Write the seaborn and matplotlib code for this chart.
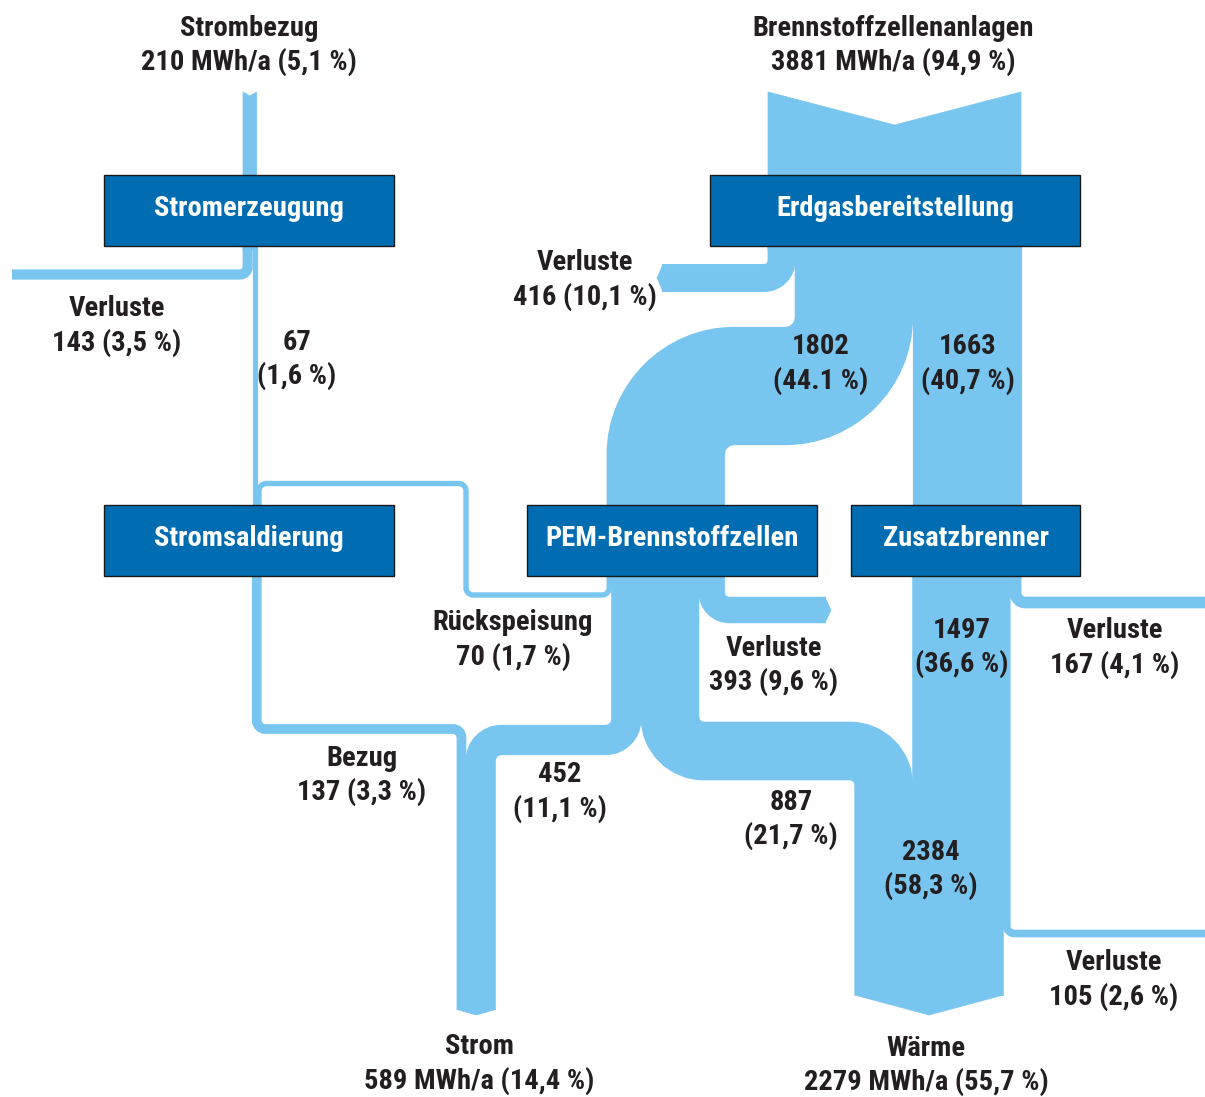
import numpy as np
import matplotlib
matplotlib.use('Agg')
import matplotlib.pyplot as plt
import seaborn as sns
from matplotlib import font_manager
from matplotlib.path import Path
from matplotlib.patches import PathPatch, Polygon, Rectangle

# Energy flows in MWh/a
strombezug = 210
brennstoff = 3881
verl_strom = 143
strom_saldo = 67
rueckspeisung = 70
bezug = 137
verl_erdgas = 416
pem_in = 1802
zusatz_in = 1663
pem_strom = 452
pem_waerme = 887
verl_pem = 393
zusatz_waerme = 1497
verl_zusatz = 167
verl_waerme = 105
waerme_sum = 2384
strom_out = 589
waerme_out = 2279

# percentages as printed in the source
pct = {
    'strombezug': '5,1', 'brennstoff': '94,9', 'verl_strom': '3,5', 'strom_saldo': '1,6',
    'rueck': '1,7', 'bezug': '3,3', 'verl_erdgas': '10,1', 'pem_in': '44.1',
    'zusatz_in': '40,7', 'pem_strom': '11,1', 'pem_waerme': '21,7', 'verl_pem': '9,6',
    'zusatz_waerme': '36,6', 'verl_zusatz': '4,1', 'verl_waerme': '2,6',
    'waerme_sum': '58,3', 'strom_out': '14,4', 'waerme_out': '55,7',
}

box_names = ['Stromerzeugung', 'Erdgasbereitstellung', 'Stromsaldierung',
             'PEM-Brennstoffzellen', 'Zusatzbrenner']

FLOW = '#78c5ef'
BOX = '#006db3'
TXT = '#231f20'
K = 253 / brennstoff          # px per MWh
KAPPA = 0.5523

sns.set_theme(style='white')

# prefer a narrow family if one is installed
installed = {f.name for f in font_manager.fontManager.ttflist}
FONT = 'DejaVu Sans'
for name in ['Liberation Sans Narrow', 'Roboto Condensed', 'Open Sans Condensed',
             'Noto Sans Condensed', 'Liberation Sans', 'Roboto']:
    if name in installed:
        FONT = name
        break
plt.rcParams['font.family'] = [FONT, 'DejaVu Sans']
narrow = 'Narrow' in FONT or 'Condensed' in FONT
LBL_SIZE = 20.5 if narrow else 18
BOX_SIZE = 20.5 if narrow else 18

fig = plt.figure(figsize=(12.05, 10.97), dpi=100)
ax = fig.add_axes([0, 0, 1, 1])
ax.set_xlim(0, 1205)
ax.set_ylim(1097, 0)
ax.axis('off')


def w(v):
    return v * K


def flow(points, value, r=None, extra=5):
    width = w(value)
    if r is None:
        r = width / 2 + extra
    pts = [np.array(p, float) for p in points]
    verts, codes = [pts[0]], [Path.MOVETO]
    for i in range(1, len(pts) - 1):
        p0, p1, p2 = pts[i - 1], pts[i], pts[i + 1]
        d1 = (p1 - p0) / np.linalg.norm(p1 - p0)
        d2 = (p2 - p1) / np.linalg.norm(p2 - p1)
        a, b = p1 - d1 * r, p1 + d2 * r
        verts += [a, a + d1 * r * KAPPA, b - d2 * r * KAPPA, b]
        codes += [Path.LINETO, Path.CURVE4, Path.CURVE4, Path.CURVE4]
    verts.append(pts[-1])
    codes.append(Path.LINETO)
    # +0.8 px so neighbouring bands meet without a hairline gap
    ax.add_patch(PathPatch(Path(verts, codes), fill=False, edgecolor=FLOW,
                           lw=(width + 0.8) * 0.72, capstyle='butt', zorder=1))


def poly(pts):
    ax.add_patch(Polygon(pts, closed=True, facecolor=FLOW, edgecolor=FLOW, lw=0.5, zorder=1))


def box(x0, y0, x1, y1, name):
    ax.add_patch(Rectangle((x0, y0), x1 - x0, y1 - y0, facecolor=BOX,
                           edgecolor='#1a1a1a', lw=1, zorder=3))
    ax.text((x0 + x1) / 2, (y0 + y1) / 2 - 2, name, color='white', fontsize=BOX_SIZE,
            fontweight='bold', ha='center', va='center', zorder=4)


def label(x, y, l1, l2):
    for dy, s in [(0, l1), (34, l2)]:
        ax.text(x, y + dy, s, color=TXT, fontsize=LBL_SIZE, fontweight='bold',
                ha='center', va='center')


# ---- left: electricity ----
x_sb = 243
poly([(x_sb, 92), (x_sb + w(strombezug) / 2, 96), (x_sb + w(strombezug), 92),
      (x_sb + w(strombezug), 250), (x_sb, 250)])
cx = x_sb + w(verl_strom) / 2
flow([(cx, 240), (cx, 274.5), (12, 274.5)], verl_strom, extra=3)
cx = x_sb + w(verl_strom) + w(strom_saldo) / 2
flow([(cx, 240), (cx, 512)], strom_saldo)

# ---- right: natural gas ----
x_eg = 768
x_pem = 607
poly([(x_eg, 92), (x_eg + w(brennstoff) / 2, 125), (x_eg + w(brennstoff), 92),
      (x_eg + w(brennstoff), 250), (x_eg, 250)])
cx = x_eg + w(verl_erdgas) / 2
flow([(cx, 240), (cx, 278), (662, 278)], verl_erdgas, extra=4)
poly([(663, 278 - w(verl_erdgas) / 2), (657, 278), (663, 278 + w(verl_erdgas) / 2)])
x1 = x_eg + w(verl_erdgas)
flow([(x1 + w(pem_in) / 2, 240), (x1 + w(pem_in) / 2, 386),
      (x_pem + w(pem_in) / 2, 386), (x_pem + w(pem_in) / 2, 512)], pem_in, extra=10)
x_zb = x1 + w(pem_in)
flow([(x_zb + w(zusatz_in) / 2, 240), (x_zb + w(zusatz_in) / 2, 512)], zusatz_in)

# ---- PEM outflows ----
x_strom = 457
cx_r = x_sb + w(verl_strom) + w(strom_saldo) + w(rueckspeisung) / 2
flow([(x_pem + w(rueckspeisung) / 2, 570), (x_pem + w(rueckspeisung) / 2, 595),
      (466, 595), (466, 483.5), (cx_r, 483.5), (cx_r, 512)], rueckspeisung, extra=5)
cx = x_sb + w(verl_strom) + w(bezug) / 2
flow([(cx, 570), (cx, 729), (x_strom + w(bezug) / 2, 729),
      (x_strom + w(bezug) / 2, 1010)], bezug, extra=4)
p = x_pem + w(rueckspeisung)
flow([(p + w(pem_strom) / 2, 570), (p + w(pem_strom) / 2, 740),
      (x_strom + w(bezug) + w(pem_strom) / 2, 740),
      (x_strom + w(bezug) + w(pem_strom) / 2, 1010)], pem_strom, extra=6)
poly([(x_strom, 1009.5), (x_strom + w(strom_out) / 2, 1015), (x_strom + w(strom_out), 1009.5)])

p += w(pem_strom)
x_wm = x_zb - w(pem_waerme)
flow([(p + w(pem_waerme) / 2, 570), (p + w(pem_waerme) / 2, 751),
      (x_wm + w(pem_waerme) / 2, 751), (x_wm + w(pem_waerme) / 2, 995.5)], pem_waerme, extra=5)
p += w(pem_waerme)
flow([(p + w(verl_pem) / 2, 570), (p + w(verl_pem) / 2, 610), (826, 610)], verl_pem, extra=5)
poly([(825, 610 - w(verl_pem) / 2), (831, 610), (825, 610 + w(verl_pem) / 2)])

# ---- Zusatzbrenner outflows ----
wz = w(zusatz_waerme - verl_waerme)
flow([(x_zb + wz / 2, 570), (x_zb + wz / 2, 995.5)], zusatz_waerme - verl_waerme)
cx = x_zb + wz + w(verl_waerme) / 2
flow([(cx, 570), (cx, 933.5), (1206, 933.5)], verl_waerme, extra=4)
cx = x_zb + w(zusatz_waerme) + w(verl_zusatz) / 2
flow([(cx, 570), (cx, 602.5), (1206, 602.5)], verl_zusatz, extra=4)
poly([(x_wm, 995), (x_wm + w(waerme_out) / 2, 1015), (x_wm + w(waerme_out), 995)])

# ---- boxes ----
box(104, 175, 394, 246, box_names[0])
box(710, 175, 1080, 246, box_names[1])
box(104, 505, 394, 576, box_names[2])
box(527, 505, 817, 576, box_names[3])
box(851, 505, 1080, 576, box_names[4])

# ---- labels ----
label(249, 28, 'Strombezug', f'{strombezug} MWh/a ({pct["strombezug"]} %)')
label(893, 28, 'Brennstoffzellenanlagen', f'{brennstoff} MWh/a ({pct["brennstoff"]} %)')
label(117, 309, 'Verluste', f'{verl_strom} ({pct["verl_strom"]} %)')
label(297, 342, f'{strom_saldo}', f'({pct["strom_saldo"]} %)')
label(585, 263, 'Verluste', f'{verl_erdgas} ({pct["verl_erdgas"]} %)')
label(821, 347, f'{pem_in}', f'({pct["pem_in"]} %)')
label(968, 347, f'{zusatz_in}', f'({pct["zusatz_in"]} %)')
label(513, 623, 'Rückspeisung', f'{rueckspeisung} ({pct["rueck"]} %)')
label(774, 648, 'Verluste', f'{verl_pem} ({pct["verl_pem"]} %)')
label(962, 630, f'{zusatz_waerme}', f'({pct["zusatz_waerme"]} %)')
label(1115, 631, 'Verluste', f'{verl_zusatz} ({pct["verl_zusatz"]} %)')
label(362, 758, 'Bezug', f'{bezug} ({pct["bezug"]} %)')
label(560, 775, f'{pem_strom}', f'({pct["pem_strom"]} %)')
label(791, 802, f'{pem_waerme}', f'({pct["pem_waerme"]} %)')
label(931, 852, f'{waerme_sum}', f'({pct["waerme_sum"]} %)')
label(1114, 963, 'Verluste', f'{verl_waerme} ({pct["verl_waerme"]} %)')
label(479, 1047, 'Strom', f'{strom_out} MWh/a ({pct["strom_out"]} %)')
label(926, 1048, 'Wärme', f'{waerme_out} MWh/a ({pct["waerme_out"]} %)')

fig.savefig('out.png', dpi=100)
